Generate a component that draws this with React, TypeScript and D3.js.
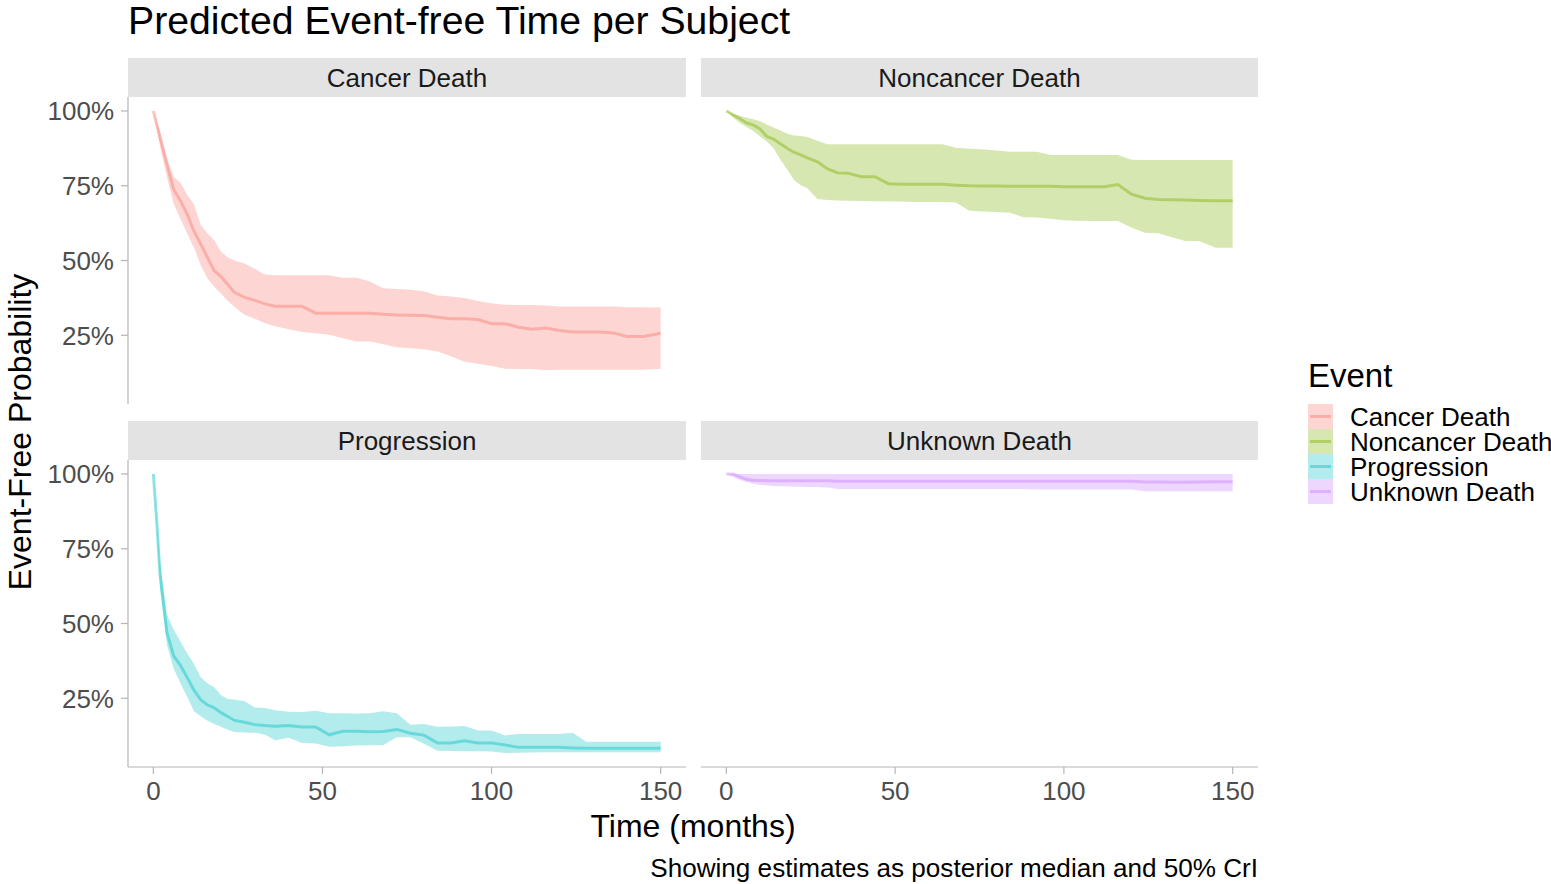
import React from "react";
import * as d3 from "d3";

// ---------- data ----------
const months = [0, 1, 2, 4, 6, 8, 10, 12, 14, 16, 18, 20, 22, 24, 27, 30, 33, 36, 40, 44, 48, 52, 56, 60, 64, 68, 72, 76, 80, 84, 88, 92, 96, 100, 104, 108, 112, 116, 120, 124, 128, 132, 136, 140, 145, 150];

const events = ["Cancer Death", "Noncancer Death", "Progression", "Unknown Death"];
const eventColors = ["#F8766D", "#7CAE00", "#00BFC4", "#C77CFF"];

const xTicks = [0, 50, 100, 150];
const yTicks = [0.25, 0.5, 0.75, 1.0];
const yTickLabels = ["25%", "50%", "75%", "100%"];

const cancerMedian = [1.0, 0.955, 0.91, 0.823, 0.737, 0.70, 0.655, 0.598, 0.555, 0.51, 0.466, 0.446, 0.42, 0.393, 0.377, 0.367, 0.355, 0.347, 0.347, 0.347, 0.324, 0.324, 0.324, 0.324, 0.324, 0.320, 0.318, 0.317, 0.316, 0.31, 0.305, 0.305, 0.303, 0.289, 0.289, 0.277, 0.27, 0.274, 0.266, 0.261, 0.261, 0.261, 0.258, 0.246, 0.246, 0.257];
const cancerUpper = [1.0, 0.96, 0.93, 0.84, 0.78, 0.76, 0.72, 0.688, 0.62, 0.59, 0.568, 0.53, 0.51, 0.50, 0.49, 0.472, 0.453, 0.451, 0.451, 0.451, 0.451, 0.451, 0.442, 0.442, 0.43, 0.407, 0.405, 0.402, 0.397, 0.383, 0.38, 0.375, 0.365, 0.357, 0.352, 0.351, 0.351, 0.350, 0.346, 0.346, 0.346, 0.346, 0.346, 0.344, 0.344, 0.343];
const cancerLower = [1.0, 0.94, 0.88, 0.78, 0.69, 0.64, 0.59, 0.543, 0.485, 0.44, 0.412, 0.39, 0.365, 0.345, 0.318, 0.305, 0.29, 0.28, 0.27, 0.261, 0.257, 0.252, 0.24, 0.229, 0.229, 0.22, 0.21, 0.207, 0.203, 0.196, 0.18, 0.162, 0.155, 0.147, 0.138, 0.137, 0.137, 0.133, 0.135, 0.135, 0.135, 0.135, 0.135, 0.135, 0.135, 0.138];

const noncancerMedian = [1.0, 0.994, 0.987, 0.975, 0.96, 0.953, 0.94, 0.915, 0.906, 0.89, 0.875, 0.862, 0.853, 0.843, 0.83, 0.806, 0.793, 0.792, 0.78, 0.78, 0.757, 0.755, 0.755, 0.755, 0.755, 0.752, 0.75, 0.749, 0.749, 0.748, 0.748, 0.748, 0.748, 0.747, 0.747, 0.747, 0.747, 0.754, 0.722, 0.708, 0.704, 0.703, 0.702, 0.701, 0.70, 0.70];
const noncancerUpper = [1.0, 0.995, 0.99, 0.984, 0.977, 0.972, 0.966, 0.955, 0.945, 0.935, 0.925, 0.918, 0.916, 0.913, 0.90, 0.889, 0.889, 0.889, 0.889, 0.889, 0.889, 0.889, 0.889, 0.889, 0.889, 0.877, 0.874, 0.872, 0.868, 0.864, 0.864, 0.864, 0.853, 0.853, 0.853, 0.853, 0.853, 0.853, 0.837, 0.836, 0.836, 0.836, 0.836, 0.836, 0.836, 0.836];
const noncancerLower = [1.0, 0.99, 0.978, 0.96, 0.946, 0.933, 0.915, 0.898, 0.875, 0.838, 0.805, 0.77, 0.752, 0.742, 0.706, 0.702, 0.701, 0.700, 0.699, 0.698, 0.697, 0.697, 0.696, 0.696, 0.696, 0.694, 0.666, 0.664, 0.662, 0.66, 0.645, 0.644, 0.64, 0.635, 0.633, 0.632, 0.632, 0.632, 0.61, 0.593, 0.591, 0.578, 0.565, 0.565, 0.543, 0.543];

const progressionMedian = [1.0, 0.84, 0.66, 0.47, 0.392, 0.36, 0.32, 0.277, 0.245, 0.228, 0.218, 0.202, 0.189, 0.176, 0.170, 0.162, 0.159, 0.157, 0.159, 0.154, 0.154, 0.128, 0.140, 0.140, 0.138, 0.139, 0.146, 0.133, 0.127, 0.101, 0.101, 0.108, 0.101, 0.101, 0.094, 0.086, 0.086, 0.086, 0.086, 0.084, 0.083, 0.083, 0.083, 0.083, 0.083, 0.083];
const progressionUpper = [1.0, 0.86, 0.70, 0.53, 0.48, 0.44, 0.40, 0.365, 0.32, 0.30, 0.287, 0.26, 0.248, 0.246, 0.24, 0.219, 0.218, 0.21, 0.205, 0.204, 0.208, 0.20, 0.20, 0.199, 0.20, 0.207, 0.20, 0.162, 0.164, 0.155, 0.156, 0.157, 0.142, 0.142, 0.126, 0.131, 0.131, 0.131, 0.131, 0.135, 0.105, 0.105, 0.105, 0.105, 0.105, 0.105];
const progressionLower = [1.0, 0.82, 0.62, 0.43, 0.35, 0.30, 0.255, 0.207, 0.19, 0.175, 0.164, 0.155, 0.145, 0.137, 0.136, 0.135, 0.128, 0.11, 0.118, 0.101, 0.099, 0.088, 0.090, 0.092, 0.093, 0.094, 0.12, 0.12, 0.098, 0.075, 0.074, 0.073, 0.073, 0.072, 0.067, 0.068, 0.069, 0.070, 0.070, 0.070, 0.070, 0.070, 0.070, 0.070, 0.070, 0.070];

const unknownMedian = [1.0, 1.0, 1.0, 0.99, 0.982, 0.979, 0.978, 0.977, 0.977, 0.977, 0.977, 0.977, 0.977, 0.977, 0.977, 0.977, 0.976, 0.976, 0.976, 0.976, 0.976, 0.976, 0.976, 0.976, 0.976, 0.976, 0.976, 0.976, 0.976, 0.976, 0.976, 0.976, 0.976, 0.976, 0.976, 0.976, 0.976, 0.976, 0.976, 0.973, 0.973, 0.972, 0.972, 0.973, 0.974, 0.974];
const unknownUpper = [1.0, 1.0, 1.0, 1.0, 1.0, 1.0, 1.0, 1.0, 1.0, 1.0, 1.0, 1.0, 1.0, 1.0, 1.0, 1.0, 1.0, 1.0, 1.0, 1.0, 1.0, 1.0, 1.0, 1.0, 1.0, 1.0, 1.0, 1.0, 1.0, 1.0, 1.0, 1.0, 1.0, 1.0, 1.0, 1.0, 1.0, 1.0, 1.0, 1.0, 1.0, 1.0, 1.0, 1.0, 1.0, 1.0];
const unknownLower = [1.0, 0.995, 0.99, 0.98, 0.973, 0.967, 0.963, 0.961, 0.96, 0.959, 0.958, 0.957, 0.957, 0.956, 0.956, 0.955, 0.95, 0.95, 0.95, 0.95, 0.95, 0.95, 0.95, 0.95, 0.95, 0.95, 0.95, 0.95, 0.95, 0.95, 0.95, 0.948, 0.948, 0.948, 0.948, 0.948, 0.948, 0.948, 0.948, 0.942, 0.942, 0.942, 0.942, 0.942, 0.942, 0.942];

const medians = [cancerMedian, noncancerMedian, progressionMedian, unknownMedian];
const uppers = [cancerUpper, noncancerUpper, progressionUpper, unknownUpper];
const lowers = [cancerLower, noncancerLower, progressionLower, unknownLower];

const FONT = "'Liberation Sans', Arial, Helvetica, sans-serif";

export default function App() {
  const W = 1551;
  const H = 884;
  const cols = [
    [128, 686],
    [701, 1258],
  ];
  const rows = [
    { strip: [58, 97], panel: [97, 404] },
    { strip: [421, 460], panel: [460, 767] },
  ];

  const lo = d3.min(lowers.flat()) as number;
  const hi = d3.max(uppers.flat()) as number;
  const pad = (hi - lo) * 0.05;
  const xDom: [number, number] = [-7.5, 157.5];

  const axisCol = "#b5b5b5";
  const tickTextCol = "#4d4d4d";
  const ribbonOpacity = 0.3;
  const lineOpacity = 0.42;

  const panels = events.map((ev, i) => {
    const c = cols[i % 2];
    const r = rows[Math.floor(i / 2)];
    const x = d3.scaleLinear().domain(xDom).range([c[0], c[1]]);
    const y = d3.scaleLinear().domain([lo - pad, hi + pad]).range([r.panel[1], r.panel[0]]);
    const idx = d3.range(months.length);
    const area = d3
      .area<number>()
      .x((k) => x(months[k]))
      .y0((k) => y(lowers[i][k]))
      .y1((k) => y(uppers[i][k]));
    const line = d3
      .line<number>()
      .x((k) => x(months[k]))
      .y((k) => y(medians[i][k]));
    const isLeft = i % 2 === 0;
    const isBottom = i >= 2;
    return (
      <g key={ev}>
        <rect x={c[0]} y={r.strip[0]} width={c[1] - c[0]} height={r.strip[1] - r.strip[0]} fill="#e3e3e3" />
        <text
          x={(c[0] + c[1]) / 2}
          y={(r.strip[0] + r.strip[1]) / 2}
          dy="0.36em"
          textAnchor="middle"
          fontSize={26}
          fill="#1a1a1a"
        >
          {ev}
        </text>
        <path d={area(idx) || ""} fill={eventColors[i]} fillOpacity={ribbonOpacity} stroke="none" />
        <path d={line(idx) || ""} fill="none" stroke={eventColors[i]} strokeOpacity={lineOpacity} strokeWidth={3} />
        {isLeft && (
          <g>
            <line x1={c[0]} x2={c[0]} y1={r.panel[0]} y2={r.panel[1]} stroke={axisCol} strokeWidth={1.2} />
            {yTicks.map((t, k) => (
              <g key={t}>
                <line x1={c[0] - 7} x2={c[0]} y1={y(t)} y2={y(t)} stroke={axisCol} strokeWidth={1.2} />
                <text x={c[0] - 14} y={y(t)} dy="0.36em" textAnchor="end" fontSize={26} fill={tickTextCol}>
                  {yTickLabels[k]}
                </text>
              </g>
            ))}
          </g>
        )}
        {isBottom && (
          <g>
            <line x1={c[0]} x2={c[1]} y1={r.panel[1]} y2={r.panel[1]} stroke={axisCol} strokeWidth={1.2} />
            {xTicks.map((t) => (
              <g key={t}>
                <line x1={x(t)} x2={x(t)} y1={r.panel[1]} y2={r.panel[1] + 7} stroke={axisCol} strokeWidth={1.2} />
                <text x={x(t)} y={r.panel[1] + 33} textAnchor="middle" fontSize={26} fill={tickTextCol}>
                  {t}
                </text>
              </g>
            ))}
          </g>
        )}
      </g>
    );
  });

  const legendX = 1308;
  const keyTop = 404;
  const keyH = 25;
  const keyW = 25;

  return (
    <svg
      width={W}
      height={H}
      viewBox={`0 0 ${W} ${H}`}
      style={{ position: "absolute", left: 0, top: 0, background: "#ffffff" }}
      fontFamily={FONT}
    >
      <rect x={0} y={0} width={W} height={H} fill="#ffffff" />
      <text x={128} y={34} fontSize={39.2} fill="#000000">
        Predicted Event-free Time per Subject
      </text>
      {panels}
      <text x={693} y={837} textAnchor="middle" fontSize={32} fill="#000000">
        Time (months)
      </text>
      <text
        transform={`translate(31, ${(97 + 767) / 2}) rotate(-90)`}
        textAnchor="middle"
        fontSize={32}
        fill="#000000"
      >
        Event-Free Probability
      </text>
      <text x={1258} y={877} textAnchor="end" fontSize={26.1} fill="#000000">
        Showing estimates as posterior median and 50% CrI
      </text>
      <text x={legendX} y={387} fontSize={33} fill="#000000">
        Event
      </text>
      {events.map((ev, i) => {
        const ky = keyTop + i * keyH;
        return (
          <g key={ev}>
            <rect x={legendX} y={ky} width={keyW} height={keyH} fill={eventColors[i]} fillOpacity={ribbonOpacity} />
            <line
              x1={legendX + 2}
              x2={legendX + keyW - 2}
              y1={ky + keyH / 2}
              y2={ky + keyH / 2}
              stroke={eventColors[i]}
              strokeOpacity={lineOpacity}
              strokeWidth={3}
            />
            <text x={legendX + 42} y={ky + keyH / 2} dy="0.36em" fontSize={26} fill="#000000">
              {ev}
            </text>
          </g>
        );
      })}
    </svg>
  );
}
